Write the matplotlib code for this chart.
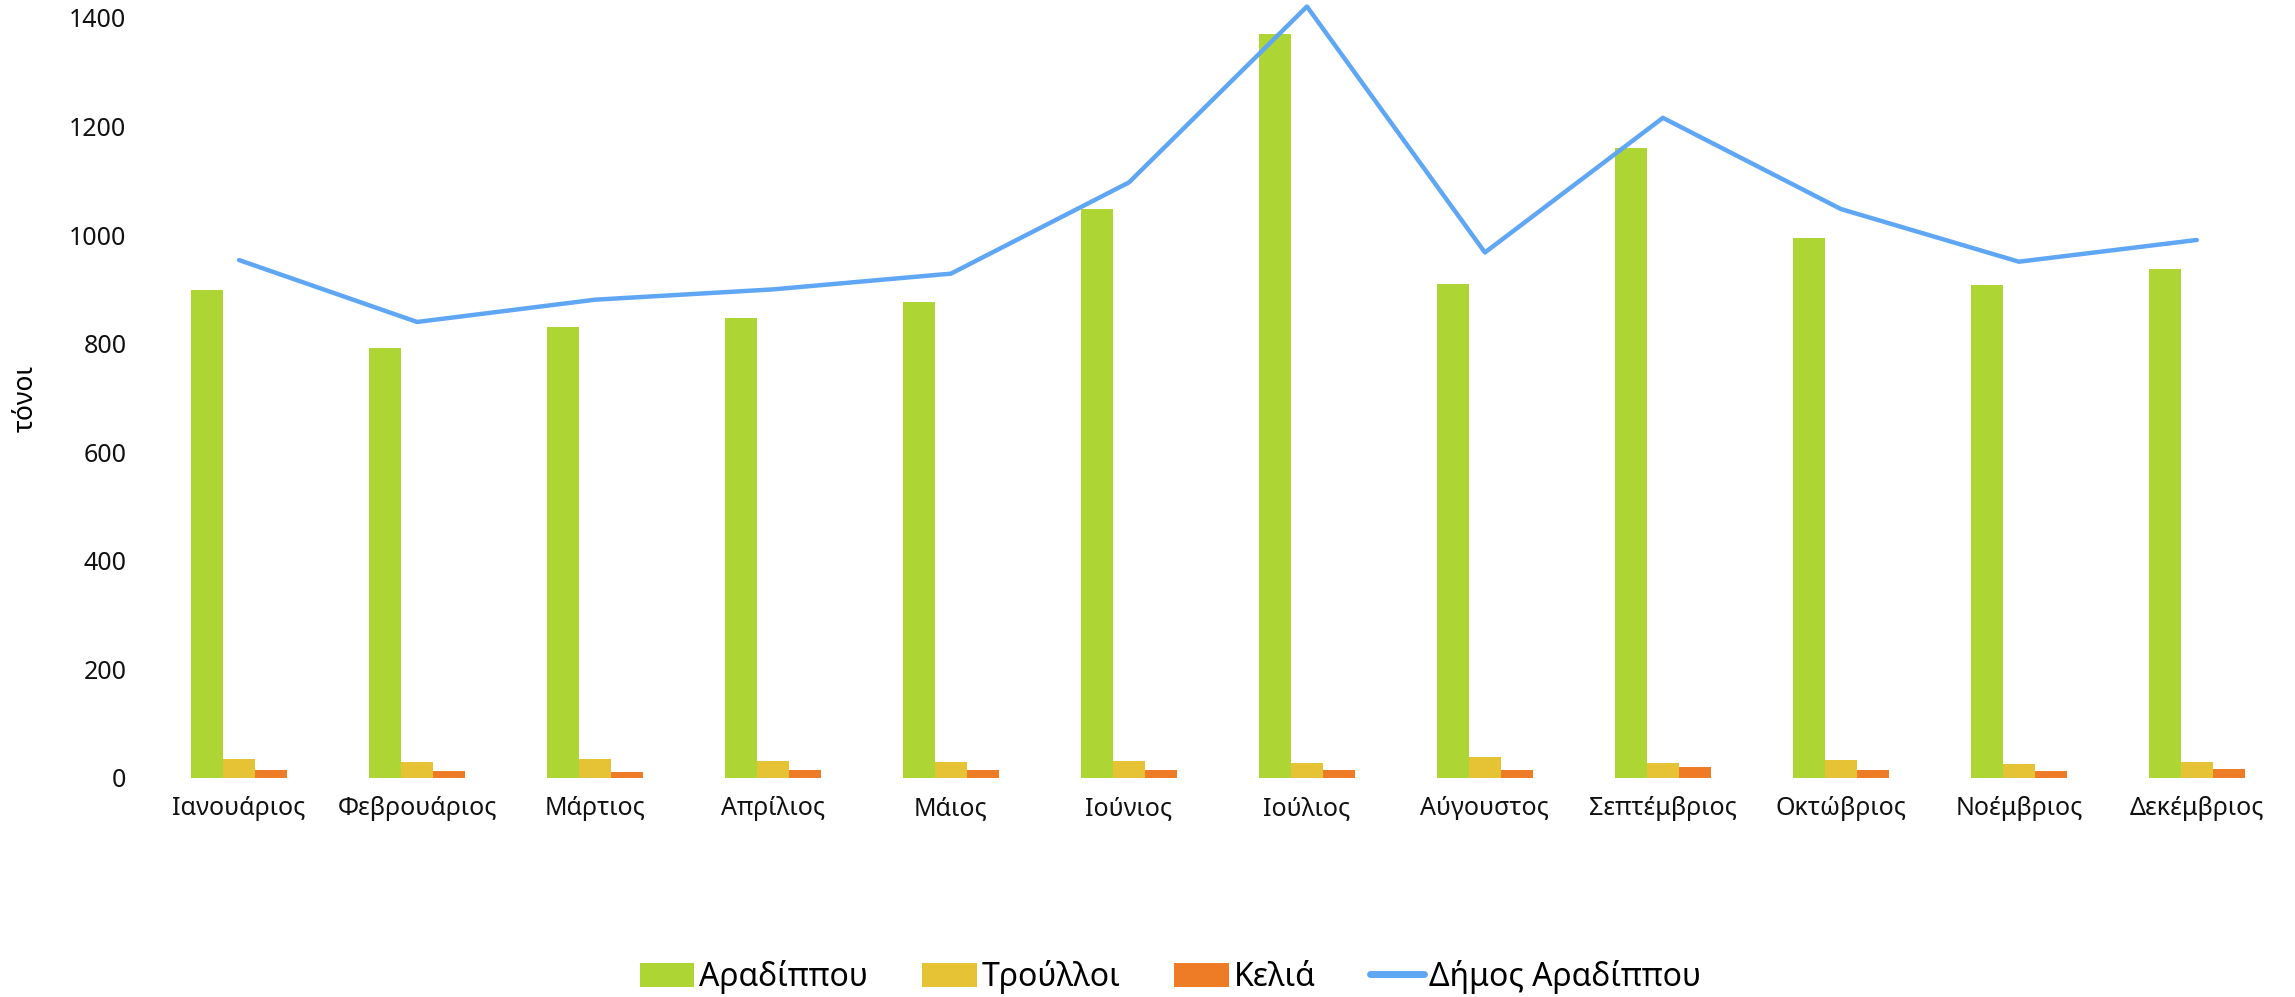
import matplotlib.pyplot as plt
import numpy as np

plt.rcParams['font.family'] = ['Noto Sans', 'DejaVu Sans']

months = ["Ιανουάριος", "Φεβρουάριος", "Μάρτιος", "Απρίλιος", "Μάιος", "Ιούνιος",
          "Ιούλιος", "Αύγουστος", "Σεπτέμβριος", "Οκτώβριος", "Νοέμβριος", "Δεκέμβριος"]
aradippou = [898, 792, 830, 848, 876, 1048, 1371, 910, 1161, 995, 908, 938]
troulloi = [35, 30, 35, 31, 30, 31, 28, 39, 28, 34, 25, 30]
kelia = [14, 12, 11, 15, 15, 14, 15, 15, 21, 14, 13, 17]
dimos = [954, 840, 881, 900, 929, 1097, 1421, 968, 1216, 1048, 951, 991]

x = np.arange(len(months))
w = 0.18

fig = plt.figure(figsize=(22.95, 9.97), dpi=100)
ax = fig.add_axes([0.0654, 0.2197, 0.9306, 0.7623])

b1 = ax.bar(x - w, aradippou, w, color="#ADD533", label="Αραδίππου")
b2 = ax.bar(x, troulloi, w, color="#E6C235", label="Τρούλλοι")
b3 = ax.bar(x + w, kelia, w, color="#EE7B25", label="Κελιά")
ln, = ax.plot(x, dimos, color="#5FA6F4", lw=3.2, solid_joinstyle="round",
              solid_capstyle="round", clip_on=False, label="Δήμος Αραδίππου")

ax.set_xlim(-0.5, 11.5)
ax.set_ylim(0, 1400)
ax.set_yticks(range(0, 1401, 200))
ax.set_xticks(x)
ax.set_xticklabels(months)
ax.tick_params(axis="both", length=0, labelsize=18, colors="#111111")
ax.tick_params(axis="y", pad=17)
ax.tick_params(axis="x", pad=13)
for s in ax.spines.values():
    s.set_visible(False)

fig.text(0.0113, 0.60, "τόνοι", rotation=90, ha="center", va="center", fontsize=19)

leg = fig.legend([b1, b2, b3, ln], ["Αραδίππου", "Τρούλλοι", "Κελιά", "Δήμος Αραδίππου"],
                 loc="center", bbox_to_anchor=(0.51, 0.02), ncol=4, frameon=False,
                 fontsize=23, handlelength=1.7, handleheight=0.8, handletextpad=0.15,
                 columnspacing=1.7)
leg.get_lines()[0].set_linewidth(5)

fig.savefig("out.png", dpi=100)
